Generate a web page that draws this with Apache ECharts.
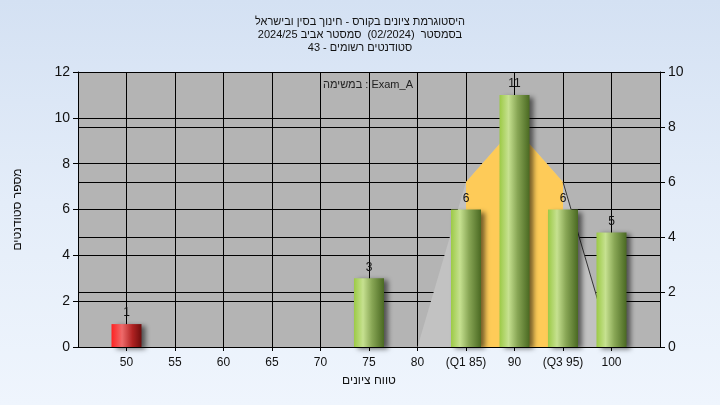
<!DOCTYPE html>
<html dir="ltr">
<head>
<meta charset="utf-8">
<script src="https://cdn.jsdelivr.net/npm/echarts@6/dist/echarts.min.js"></script>
<style>
html,body{margin:0;padding:0;}
#c{width:720px;height:405px;background:linear-gradient(180deg,#d4e1f3 0%,#e4edf9 50%,#eff5fd 100%);}
</style>
</head>
<body>
<div id="c"></div>
<script>
// ---- data ----
const titleLines = [
  'היסטוגרמת ציונים בקורס - חינוך בסין ובישראל',
  'בסמסטר  (02/2024)  סמסטר אביב 2024/25',
  'סטודנטים רשומים - 43'
];
const legendText = 'במשימה : Exam_A';
const xAxisName = 'טווח ציונים';
const yAxisName = 'מספר סטודנטים';
const binValues = [50, 55, 60, 65, 70, 75, 80, 85, 90, 95, 100];
const tickLabels = ['50', '55', '60', '65', '70', '75', '80', '(Q1 85)', '90', '(Q3 95)', '100'];
const counts = [1, 0, 0, 0, 0, 3, 0, 6, 11, 6, 5];
const failBelow = 55;
const curveX = [80, 85, 90, 95, 100];
const curveY = [0, 6, 8, 6, 0];
const iqrX = [85, 90, 95];
const iqrY = [6, 8, 6];
const tailX = [95, 100];
const tailY = [6, 0];

// ---- styles ----
const FONT = '"Liberation Sans", Arial, sans-serif';
const green = {type:'linear',x:0,y:0,x2:1,y2:0,colorStops:[
  {offset:0,color:'#9cca46'},{offset:0.3,color:'#c6e190'},{offset:0.6,color:'#88a655'},{offset:1,color:'#4a6922'}]};
const red = {type:'linear',x:0,y:0,x2:1,y2:0,colorStops:[
  {offset:0,color:'#ff2222'},{offset:0.35,color:'#ee6a6a'},{offset:0.7,color:'#b02222'},{offset:1,color:'#6e0c0c'}]};

const barData = [];
binValues.forEach((v, i) => {
  if (counts[i] > 0) {
    barData.push({value:[v, counts[i]], itemStyle:{color: v < failBelow ? red : green}});
  }
});

const chart = echarts.init(document.getElementById('c'), null, {renderer:'canvas'});
chart.setOption({
  animation:false,
  backgroundColor:'transparent',
  title:{
    text: titleLines.join('\n'),
    left:'center', top:10,
    textStyle:{fontFamily:FONT,fontSize:11,fontWeight:'normal',color:'#111',lineHeight:13}
  },
  graphic:[{
    type:'text', left:323, top:79, z:100,
    style:{text:legendText, font:'11px ' + FONT, fill:'#222'}
  }],
  grid:{left:78,right:60,top:72,bottom:58,show:true,backgroundColor:'#b4b4b4',borderWidth:0},
  xAxis:{
    type:'value', min:45, max:105, interval:5,
    name:xAxisName, nameLocation:'middle', nameGap:28,
    nameTextStyle:{fontFamily:FONT,fontSize:12,color:'#111'},
    axisLine:{show:true,onZero:false,lineStyle:{color:'#000',width:1}},
    axisTick:{show:true,length:4,lineStyle:{color:'#000'}},
    axisLabel:{
      fontFamily:FONT,fontSize:12,color:'#111',margin:10,
      showMinLabel:false, showMaxLabel:false,
      formatter:function(v){const i = binValues.indexOf(v); return i >= 0 ? tickLabels[i] : '';}
    },
    splitLine:{show:true,lineStyle:{color:'#000',width:1}}
  },
  yAxis:[{
    type:'value', min:0, max:12, interval:2, position:'left',
    name:yAxisName, nameLocation:'middle', nameGap:54,
    nameTextStyle:{fontFamily:FONT,fontSize:12,color:'#111'},
    axisLine:{show:true,lineStyle:{color:'#000'}},
    axisTick:{show:true,length:5,lineStyle:{color:'#000'}},
    axisLabel:{fontFamily:FONT,fontSize:14,color:'#111',margin:8},
    splitLine:{show:true,lineStyle:{color:'#000',width:1}}
  },{
    type:'value', min:0, max:10, interval:2, position:'right',
    axisLine:{show:true,lineStyle:{color:'#000'}},
    axisTick:{show:true,length:5,lineStyle:{color:'#000'}},
    axisLabel:{fontFamily:FONT,fontSize:14,color:'#111',margin:8},
    splitLine:{show:true,lineStyle:{color:'#000',width:1}}
  }],
  series:[{
    type:'line', yAxisIndex:1, z:2,
    data: curveX.map((x,i)=>[x, curveY[i]]),
    symbol:'none', lineStyle:{width:0},
    areaStyle:{color:'#c2c2c2', opacity:1}
  },{
    type:'line', yAxisIndex:1, z:3,
    data: iqrX.map((x,i)=>[x, iqrY[i]]),
    symbol:'none', lineStyle:{width:0},
    areaStyle:{color:'#fecb58', opacity:1}
  },{
    type:'line', yAxisIndex:1, z:3,
    data: tailX.map((x,i)=>[x, tailY[i]]),
    symbol:'none', lineStyle:{width:1,color:'#333'}
  },{
    type:'bar', yAxisIndex:0, z:5,
    data: barData, barWidth:30,
    itemStyle:{shadowColor:'rgba(0,0,0,0.55)',shadowBlur:5,shadowOffsetX:4,shadowOffsetY:2},
    label:{show:true,position:'top',distance:5,fontFamily:FONT,fontSize:12,color:'#111'}
  }]
});
</script>
</body>
</html>
